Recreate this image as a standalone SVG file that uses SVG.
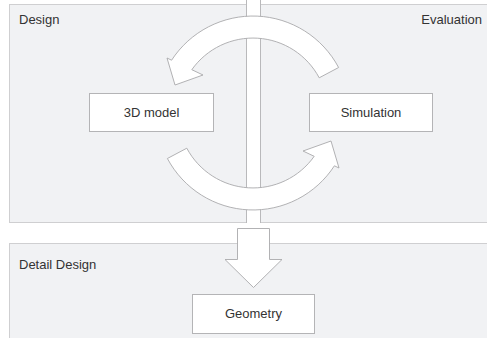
<svg xmlns="http://www.w3.org/2000/svg" width="487" height="338" viewBox="0 0 487 338">
  <style>
    .panel { fill: #f1f2f4; stroke: #cfcfd1; stroke-width: 1; }
    .sep { stroke: #b9b9bb; stroke-width: 1; }
    .box { fill: #ffffff; stroke: #b4b4b6; stroke-width: 1; }
    .arrow { fill: #ffffff; stroke: #a9a9ab; stroke-width: 0.9; stroke-linejoin: miter; }
    .label { font-family: "Liberation Sans", Arial, sans-serif; font-size: 13px; fill: #333333; }
    .mid { text-anchor: middle; }
    .end { text-anchor: end; }
  </style>

  <!-- Phase panels -->
  <g id="panel-design">
    <rect class="panel" x="9.5" y="4.5" width="237" height="218"/>
    <text class="label" x="19" y="24">Design</text>
  </g>
  <g id="panel-evaluation">
    <rect class="panel" x="260.5" y="4.5" width="230" height="218"/>
    <text class="label end" x="482" y="24">Evaluation</text>
  </g>
  <g id="panel-detail">
    <rect class="panel" x="9.5" y="243.5" width="481" height="100"/>
    <text class="label" x="19" y="269">Detail Design</text>
  </g>

  <!-- divider between the two upper panels -->
  <line class="sep" x1="246.5" y1="0" x2="246.5" y2="223"/>
  <line class="sep" x1="260.5" y1="0" x2="260.5" y2="223"/>

  <!-- Connectors -->
  <g id="connectors">
    <defs>
      <path id="curved-arrow" d="M167.4,158.5 A97,97 0 0 0 334.4,165.8 L339,168 L331,141 L303,151 L314.2,156.3 A75,75 0 0 1 186.8,148.2 Z"/>
    </defs>
    <!-- Simulation back to 3D model (upper arc) -->
    <use class="arrow" href="#curved-arrow" transform="rotate(180 253 113)"/>
    <!-- 3D model to Simulation (lower arc) -->
    <use class="arrow" href="#curved-arrow"/>
    <!-- down to Detail Design -->
    <path class="arrow" d="M237.5,228.5 L269.5,228.5 L269.5,259.5 L282,259.5 L253.5,287.5 L225,259.5 L237.5,259.5 Z"/>
  </g>

  <!-- Nodes -->
  <g id="node-3d-model">
    <rect class="box" x="89.5" y="93.5" width="124" height="38"/>
    <text class="label mid" x="151.5" y="117">3D model</text>
  </g>
  <g id="node-simulation">
    <rect class="box" x="309.5" y="93.5" width="123" height="38"/>
    <text class="label mid" x="371" y="117">Simulation</text>
  </g>
  <g id="node-geometry">
    <rect class="box" x="192.5" y="294.5" width="122" height="39"/>
    <text class="label mid" x="253.5" y="318">Geometry</text>
  </g>
</svg>
